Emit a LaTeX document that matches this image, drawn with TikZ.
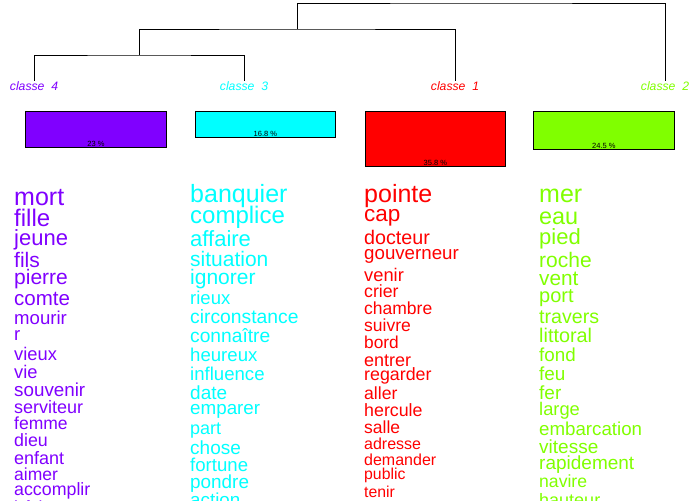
\documentclass[tikz,border=0pt]{standalone}
\usepackage{fontspec}
\setmainfont{Liberation Sans}
\usepackage{xcolor}
\usepackage{tikz}
\usetikzlibrary{positioning}
\definecolor{clsone}{RGB}{255,0,0}
\definecolor{clstwo}{RGB}{128,255,0}
\definecolor{clsthree}{RGB}{0,255,255}
\definecolor{clsfour}{RGB}{128,0,255}

\begin{document}
\begin{tikzpicture}[
  x=1pt, y=-1pt,
  link/.style={draw=black, line width=0.8pt},
  cls/.style={anchor=base, inner sep=1pt, font=\itshape\fontsize{12.2}{12.2}\selectfont},
  bar/.style={draw=black, line width=0.8pt, anchor=north west, inner sep=0pt},
  pct/.style={anchor=south, inner sep=1.2pt, font=\fontsize{7.5}{7.5}\selectfont},
  word/.style={anchor=mid west, inner sep=0pt, font=\fontsize{#1}{#1}\selectfont},
  wone/.style={word=#1, text=clsone},
  wtwo/.style={word=#1, text=clstwo},
  wthree/.style={word=#1, text=clsthree},
  wfour/.style={word=#1, text=clsfour}
]
  \useasboundingbox (0,0) rectangle (700,500);
  \clip (0,0) rectangle (700,500);

  \node[cls, text=clsfour] (cl4) at (34,91) {classe\ \ 4};
  \node[cls, text=clsthree] (cl3) at (244,91) {classe\ \ 3};
  \node[cls, text=clsone] (cl1) at (455,91) {classe\ \ 1};
  \node[cls, text=clstwo] (cl2) at (665,91) {classe\ \ 2};

  \coordinate (j43) at (139,55);
  \coordinate (j431) at (297,29);
  \coordinate (jtop) at (481,3);
  \draw[link] (cl4.north) |- (j43) -| (cl3.north);
  \draw[link] (j43) |- (j431) -| (cl1.north);
  \draw[link] (j431) |- (jtop) -| (cl2.north);

  \node[bar, fill=clsfour, minimum width=141pt, minimum height=36pt] (bar4) at (25,111) {};
  \node[bar, fill=clsthree, minimum width=140pt, minimum height=26pt] (bar3) at (195,111) {};
  \node[bar, fill=clsone, minimum width=140pt, minimum height=55pt] (bar1) at (365,111) {};
  \node[bar, fill=clstwo, minimum width=141pt, minimum height=38pt] (bar2) at (533,111) {};
  \node[pct] (p4) at (bar4.south) {23 \%};
  \node[pct] (p3) at (bar3.south) {16.8 \%};
  \node[pct] (p1) at (bar1.south) {35.8 \%};
  \node[pct] (p2) at (bar2.south) {24.5 \%};

  \node[wfour=25] (mort) at (14,203) {mort};
  \node[wfour=24] (fille) at (14,224) {fille};
  \node[wfour=22] (jeune) at (14,243) {jeune};
  \node[wfour=21] (fils) at (14,265) {fils};
  \node[wfour=21] (pierre) at (14,282) {pierre};
  \node[wfour=20.5] (comte) at (14,303) {comte};
  \node[wfour=18.6] (mourir) at (14,322) {mourir};
  \node[wfour=18.5] (r) at (14,338) {r};
  \node[wfour=18.3] (vieux) at (14,358) {vieux};
  \node[wfour=18.3] (vie) at (14,376) {vie};
  \node[wfour=18.8] (souvenir) at (14,394) {souvenir};
  \node[wfour=18] (serviteur) at (14,411) {serviteur};
  \node[wfour=17.5] (femme) at (14,427) {femme};
  \node[wfour=17.8] (dieu) at (14,444) {dieu};
  \node[wfour=18] (enfant) at (14,462) {enfant};
  \node[wfour=17.5] (aimer) at (14,478) {aimer};
  \node[wfour=17.8] (accomplir) at (14,493) {accomplir};
  \node[wfour=17.5] (batir) at (14,511) {bâtir};

  \node[wthree=25] (banquier) at (190,200) {banquier};
  \node[wthree=24] (complice) at (190,221) {complice};
  \node[wthree=22] (affaire) at (190,244) {affaire};
  \node[wthree=21] (situation) at (190,264) {situation};
  \node[wthree=21] (ignorer) at (190,282) {ignorer};
  \node[wthree=18.5] (rieux) at (190,302) {rieux};
  \node[wthree=19.3] (circonstance) at (190,321) {circonstance};
  \node[wthree=19.2] (connaitre) at (190,340) {connaître};
  \node[wthree=18.6] (heureux) at (190,359) {heureux};
  \node[wthree=18.6] (influence) at (190,378) {influence};
  \node[wthree=19] (date) at (190,397) {date};
  \node[wthree=18.8] (emparer) at (190,412) {emparer};
  \node[wthree=18] (part) at (190,432) {part};
  \node[wthree=19] (chose) at (190,452) {chose};
  \node[wthree=18.6] (fortune) at (190,469) {fortune};
  \node[wthree=18.9] (pondre) at (190,486) {pondre};
  \node[wthree=18.8] (action) at (190,504) {action};

  \node[wone=25] (pointe) at (364,200) {pointe};
  \node[wone=22.5] (cap) at (364,219) {cap};
  \node[wone=19.7] (docteur) at (364,242) {docteur};
  \node[wone=18.7] (gouverneur) at (364,257) {gouverneur};
  \node[wone=18.3] (venir) at (364,279) {venir};
  \node[wone=17.7] (crier) at (364,295) {crier};
  \node[wone=17.5] (chambre) at (364,312) {chambre};
  \node[wone=17.5] (suivre) at (364,329) {suivre};
  \node[wone=17.3] (bord) at (364,346) {bord};
  \node[wone=18] (entrer) at (364,364) {entrer};
  \node[wone=17.8] (regarder) at (364,378) {regarder};
  \node[wone=17.6] (aller) at (364,397) {aller};
  \node[wone=17.8] (hercule) at (364,414) {hercule};
  \node[wone=17.5] (salle) at (364,431) {salle};
  \node[wone=16] (adresse) at (364,447) {adresse};
  \node[wone=16] (demander) at (364,463) {demander};
  \node[wone=15.8] (public) at (364,477) {public};
  \node[wone=15.8] (tenir) at (364,495) {tenir};

  \node[wtwo=25] (mer) at (539,200) {mer};
  \node[wtwo=23.4] (eau) at (539,222) {eau};
  \node[wtwo=22] (pied) at (539,242) {pied};
  \node[wtwo=21] (roche) at (539,265) {roche};
  \node[wtwo=20.8] (vent) at (539,283) {vent};
  \node[wtwo=20] (port) at (539,300) {port};
  \node[wtwo=19.6] (travers) at (539,321) {travers};
  \node[wtwo=19.8] (littoral) at (539,340) {littoral};
  \node[wtwo=18.8] (fond) at (539,359) {fond};
  \node[wtwo=18.9] (feu) at (539,378) {feu};
  \node[wtwo=19] (fer) at (539,397) {fer};
  \node[wtwo=18.3] (large) at (539,413) {large};
  \node[wtwo=18.7] (embarcation) at (539,433) {embarcation};
  \node[wtwo=19] (vitesse) at (539,451) {vitesse};
  \node[wtwo=19] (rapidement) at (539,467) {rapidement};
  \node[wtwo=17.6] (navire) at (539,485) {navire};
  \node[wtwo=18] (hauteur) at (539,504) {hauteur};
\end{tikzpicture}
\end{document}
